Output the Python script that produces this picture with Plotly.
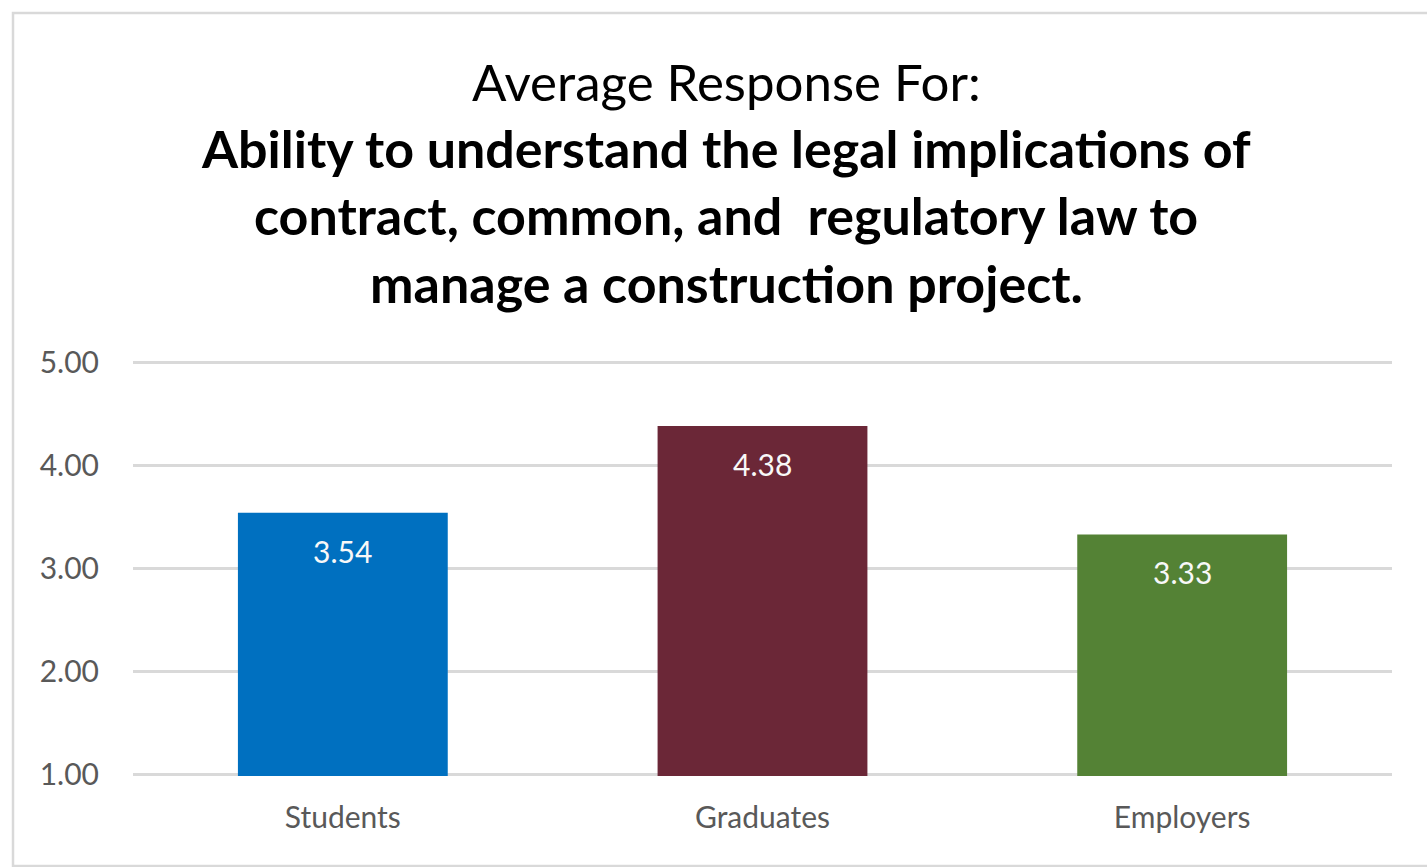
import plotly.graph_objects as go

categories = ["Students", "Graduates", "Employers"]
values = [3.54, 4.38, 3.33]
colors = ["#0070C0", "#6B2737", "#548235"]
tick_vals = [1, 2, 3, 4, 5]
tick_text = ["1.00", "2.00", "3.00", "4.00", "5.00"]
title_lines = [
    "Average Response For:",
    "<b>Ability to understand the legal implications of</b>",
    "<b>contract, common, and  regulatory law to</b>",
    "<b>manage a construction project.</b>",
]

W, H = 1427, 867
L, R, T, B = 133, 35, 361, 91
pw, ph = W - L - R, H - T - B

def px_to_paper_x(x):
    return (x - L) / pw

def px_to_paper_y(y):
    return (H - B - y) / ph

font = "Lato"

fig = go.Figure()
fig.add_trace(go.Bar(
    x=categories, y=values,
    marker=dict(color=colors, line=dict(width=0)),
    width=0.5,
    hoverinfo="x+y",
))

for c, v in zip(categories, values):
    fig.add_annotation(
        x=c, y=v, xref="x", yref="y",
        text=f"{v:.2f}", showarrow=False,
        xanchor="center", yanchor="middle", yshift=-38,
        font=dict(family=font, size=30, color="#f8f8f8"),
    )

title_y = [82, 148, 215, 283]
title_sizes = [51, 52, 52, 52]
for txt, y, s in zip(title_lines, title_y, title_sizes):
    fig.add_annotation(
        text=txt, xref="paper", yref="paper",
        x=px_to_paper_x(726), y=px_to_paper_y(y),
        xanchor="center", yanchor="middle", showarrow=False,
        font=dict(family=font, size=s, color="#000000"),
    )

fig.add_shape(
    type="rect", xref="paper", yref="paper",
    x0=px_to_paper_x(13), x1=px_to_paper_x(1445),
    y0=px_to_paper_y(866), y1=px_to_paper_y(13),
    line=dict(color="#d9d9d9", width=2.5), layer="below",
)

fig.update_layout(
    width=W, height=H,
    margin=dict(l=L, r=R, t=T, b=B, pad=0),
    paper_bgcolor="white", plot_bgcolor="white",
    showlegend=False,
    font=dict(family=font, color="#595959"),
    xaxis=dict(
        showgrid=False, showline=False, zeroline=False,
        tickfont=dict(size=30, color="#595959", family=font),
        ticks="", ticklabelstandoff=21,
    ),
    yaxis=dict(
        range=[0.99, 5.01], tickvals=tick_vals, ticktext=tick_text,
        showgrid=True, gridcolor="#d9d9d9", gridwidth=2.5,
        zeroline=False, showline=False, ticks="",
        tickfont=dict(size=30, color="#595959", family=font),
        ticklabelstandoff=33,
    ),
)

fig.write_html("out.html", config={"displayModeBar": False},
               post_script="document.body.style.margin='0px';")
